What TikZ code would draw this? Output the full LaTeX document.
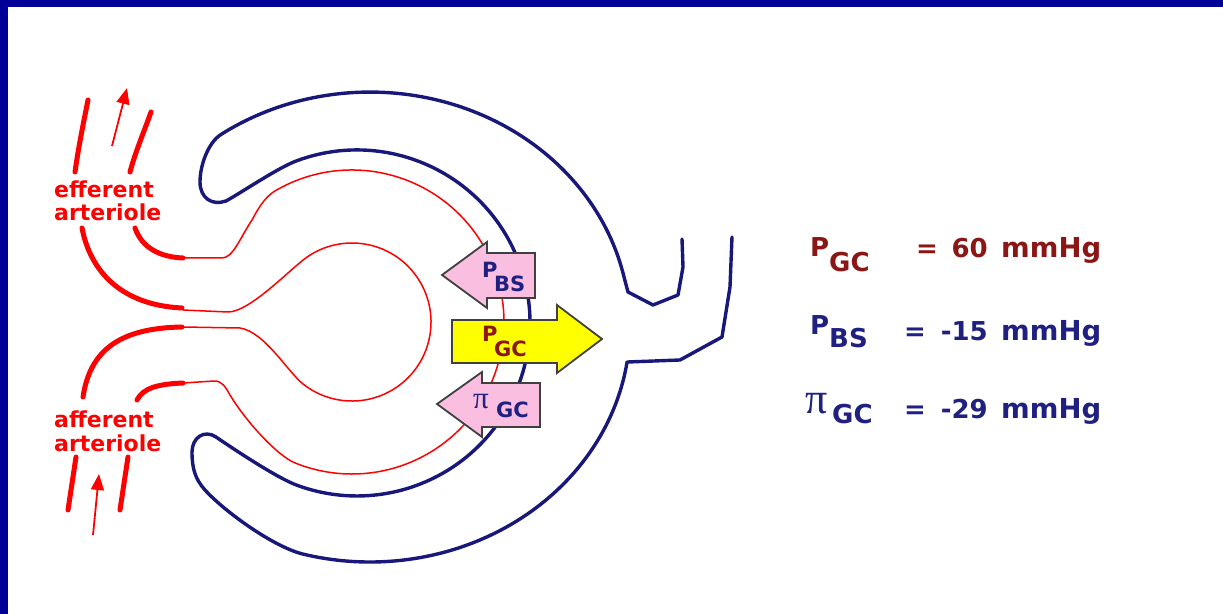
\documentclass[tikz,border=0pt]{standalone}
\usepackage{fontspec}
\setmainfont{DejaVu Sans}
\newfontfamily\greekfont{Liberation Serif}
\usetikzlibrary{arrows.meta}

\definecolor{frameblue}{RGB}{0,0,153}
\definecolor{capblue}{RGB}{24,24,122}
\definecolor{txtblue}{RGB}{32,32,128}
\definecolor{txtred}{RGB}{139,22,22}
\definecolor{forcepink}{RGB}{249,190,224}
\definecolor{forceyellow}{RGB}{255,255,0}
\definecolor{forceline}{RGB}{64,64,64}

\tikzset{
  capsule/.style={draw=capblue, line width=3.4bp, line join=round, line cap=round},
  vessel/.style={draw=red, line width=1.5bp, line join=round},
  arteriole/.style={draw=red, line width=5bp, line cap=round},
  flow/.style={draw=red, line width=1.8bp, -{Triangle[length=16bp,width=13bp]}},
  force/.style={draw=forceline, line width=1.8bp, line join=miter},
  vlabel/.style={inner sep=0pt, anchor=base west, text=red,
    font=\fontsize{22bp}{24bp}\selectfont\bfseries},
  boxtxt/.style={inner sep=0pt, anchor=base west,
    font=\fontsize{21bp}{23bp}\selectfont\bfseries},
  eqtxt/.style={inner sep=0pt, font=\fontsize{26bp}{28bp}\selectfont\bfseries},
  unittxt/.style={inner sep=0pt, anchor=base west, font=\fontsize{27.5bp}{29bp}\selectfont\bfseries},
}

\begin{document}
\begin{tikzpicture}[x=1bp,y=-1bp]
\useasboundingbox (0,0) rectangle (1223,614);

% page background and frame bands
\fill[white] (0,0) rectangle (1223,614);
\fill[frameblue] (0,0) rectangle (1223,7);
\fill[frameblue] (0,7) rectangle (8,614);

% Bowman's capsule wall, from the tubule opening round both hooks
\draw[capsule] (682,239) -- (683,267) -- (678,295) -- (653,305) -- (628,292) -- (624,277)
  arc[start angle=-12.3, end angle=-125, x radius=260, y radius=235]
  .. controls (208.3,142.5) and (200,165) .. (200,182)
  .. controls (200,198) and (212,206) .. (226,201)
  .. controls (244,191) and (279,167) .. (297.8,160.4)
  arc[start angle=-110, end angle=110, radius=173]
  .. controls (279,479) and (238,452) .. (216,437)
  .. controls (204,429) and (192,438) .. (192,452)
  .. controls (192,468) and (195,479) .. (205,490)
  .. controls (225,512) and (273.6,546.8) .. (302.7,554)
  arc[start angle=105, end angle=8.57, x radius=260, y radius=235]
  -- (680,360) -- (722,337) -- (730,287) -- (732,237);

% glomerular capillary loops
\draw[vessel] (183,258) -- (222,258)
  .. controls (233,258) and (240,238) .. (252,220)
  .. controls (260,205) and (267,194) .. (280.6,187.8)
  arc[start angle=-118, end angle=112, radius=152]
  .. controls (276.6,455.4) and (245,420) .. (230,395)
  .. controls (225,386) and (222,381) .. (214,381) -- (183,383);
\draw[vessel] (183,310) -- (228,312)
  .. controls (250,312) and (290.3,268.8) .. (306.7,257.3)
  arc[start angle=-125, end angle=128, radius=79]
  .. controls (287.6,372) and (265,332) .. (240,328) -- (183,327);

% efferent arteriole
\draw[arteriole] (88,100) .. controls (83,125) and (78,150) .. (75,172);
\draw[arteriole] (151,112) .. controls (144,132) and (136,150) .. (130,172);
\draw[arteriole] (82,228) .. controls (90,270) and (120,305) .. (182,308);
\draw[arteriole] (135,228) .. controls (142,248) and (160,257) .. (183,258);
\coordinate (effTail) at (112,146);
\coordinate (effHead) at (127,88);
\draw[flow] (effTail) -- (effHead);

% afferent arteriole
\draw[arteriole] (83,397) .. controls (90,350) and (120,328) .. (182,327);
\draw[arteriole] (137,400) .. controls (143,388) and (158,384) .. (183,383);
\draw[arteriole] (76,457) -- (68,510);
\draw[arteriole] (128,457) -- (120,510);
\coordinate (affTail) at (93,535);
\coordinate (affHead) at (99,474);
\draw[flow] (affTail) -- (affHead);

\node[vlabel] (effA) at (54,198) {efferent};
\node[vlabel] (effB) at (54,221) {arteriole};
\node[vlabel] (affA) at (54,427) {afferent};
\node[vlabel] (affB) at (54,451) {arteriole};

% force arrows
\draw[force, fill=forcepink] (442,275) -- (487,242) -- (487,253) -- (535,253)
  -- (535,298) -- (487,298) -- (487,308) -- cycle;
\draw[force, fill=forceyellow] (452,320) -- (557,320) -- (557,305) -- (602,339)
  -- (557,373) -- (557,363) -- (452,363) -- cycle;
\draw[force, fill=forcepink] (437,404) -- (482,372) -- (482,383) -- (540,383)
  -- (540,427) -- (482,427) -- (482,437) -- cycle;

\node[boxtxt, text=txtblue] (bsP) at (482,278) {P};
\node[boxtxt, text=txtblue] (bsS) at (494,292) {BS};
\node[boxtxt, text=txtred] (gcP) at (482,342) {P};
\node[boxtxt, text=txtred] (gcS) at (494,357) {GC};
\node[boxtxt, text=txtblue, font=\fontsize{31bp}{33bp}\selectfont\greekfont] (piP) at (473,408) {π};
\node[boxtxt, text=txtblue] (piS) at (496,417) {GC};

% pressure values
\node[eqtxt, anchor=base west, text=txtred] (v1P) at (810,257) {P};
\node[eqtxt, anchor=base west, text=txtred] (v1S) at (829,272) {GC};
\node[eqtxt, anchor=base west, text=txtred] (v1E) at (916,258) {=};
\node[eqtxt, anchor=base east, text=txtred] (v1N) at (988,258) {60};
\node[unittxt, text=txtred] (v1U) at (1001,258) {mmHg};

\node[eqtxt, anchor=base west, text=txtblue] (v2P) at (810,335) {P};
\node[eqtxt, anchor=base west, text=txtblue] (v2S) at (829,348) {BS};
\node[eqtxt, anchor=base west, text=txtblue] (v2E) at (904,341) {=};
\node[eqtxt, anchor=base east, text=txtblue] (v2N) at (988,341) {-15};
\node[unittxt, text=txtblue] (v2U) at (1001,341) {mmHg};

\node[eqtxt, anchor=base west, text=txtblue, font=\fontsize{44bp}{46bp}\selectfont\greekfont] (v3P) at (805,413) {π};
\node[eqtxt, anchor=base west, text=txtblue] (v3S) at (832,423) {GC};
\node[eqtxt, anchor=base west, text=txtblue] (v3E) at (904,418) {=};
\node[eqtxt, anchor=base east, text=txtblue] (v3N) at (988,418) {-29};
\node[unittxt, text=txtblue] (v3U) at (1001,418) {mmHg};
\end{tikzpicture}
\end{document}
